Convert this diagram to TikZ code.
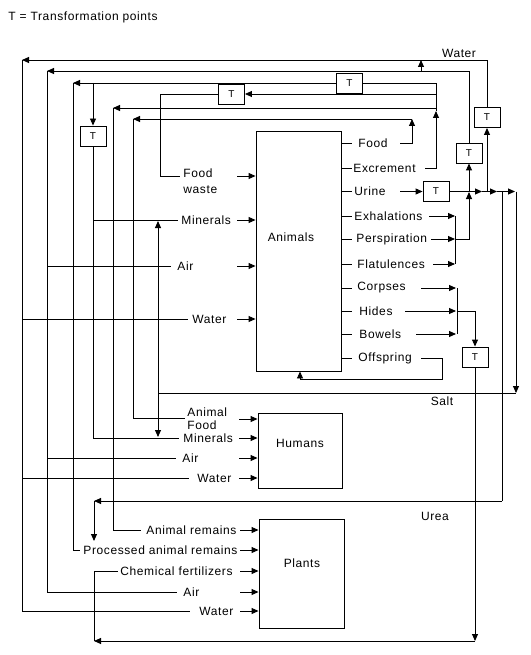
\documentclass[tikz,border=0pt]{standalone}
\usepackage{fontspec}
\setmainfont[LetterSpace=5]{Liberation Sans}
\usetikzlibrary{arrows.meta}
\begin{document}
\begin{tikzpicture}[x=1pt,y=-1pt,
  line width=0.9pt,
  every node/.style={font=\fontsize{12}{13}\selectfont},
  lbl/.style={inner sep=0pt, anchor=west},
  tbox/.style={draw, minimum width=26pt, minimum height=20pt, inner sep=0pt, font=\fontsize{10}{12}\selectfont},
  bigbox/.style={draw, inner sep=0pt},
  arr/.style={-{Triangle[length=7pt,width=6pt]}},
  ]
\useasboundingbox (0,0) rectangle (530,655);

% legend and free labels
\node[lbl] (legend) at (8,17) {T = Transformation points};
\node (lwater) at (459,53) {Water};
\node (lsalt) at (442,401) {Salt};
\node (lurea) at (435,516) {Urea};

% big boxes
\node[bigbox, minimum width=85pt, minimum height=240pt] (animals) at (298.5,251) {};
\node (lanimals) at (291,237) {Animals};
\node[bigbox, minimum width=84pt, minimum height=75pt] (humans) at (300,450.5) {};
\node (lhumans) at (300,443) {Humans};
\node[bigbox, minimum width=85pt, minimum height=109pt] (plants) at (301.5,573.5) {};
\node (lplants) at (302,563) {Plants};

% T boxes
\node[tbox] (T1) at (349.5,83) {T};
\node[tbox] (T2) at (231.5,94) {T};
\node[tbox] (T3) at (93,136) {T};
\node[tbox] (T4) at (436,191.5) {T};
\node[tbox] (T5) at (469,153) {T};
\node[tbox] (T6) at (487,117.5) {T};
\node[tbox] (T7) at (475,357) {T};

% output labels of Animals
\node[lbl] (oFood) at (358,143) {Food};
\node[lbl] (oExc) at (353,168) {Excrement};
\node[lbl] (oUri) at (354,191.5) {Urine};
\node[lbl] (oExh) at (354,216) {Exhalations};
\node[lbl] (oPer) at (356,239) {Perspiration};
\node[lbl] (oFla) at (357,264) {Flatulences};
\node[lbl] (oCor) at (357,288) {Corpses};
\node[lbl] (oHid) at (359,311) {Hides};
\node[lbl] (oBow) at (359,334) {Bowels};
\node[lbl] (oOff) at (358,358) {Offspring};

% input labels
\node[lbl, align=left, font=\fontsize{12}{16}\selectfont] (fwA) at (183,181) {Food\\waste};
\node[lbl] (mA) at (181,220) {Minerals};
\node[lbl] (aA) at (177,266) {Air};
\node[lbl] (wA) at (192,319) {Water};
\node[lbl, align=left] (afH) at (187,418.5) {Animal\\Food};
\node[lbl] (mH) at (183,438) {Minerals};
\node[lbl] (aH) at (182,458) {Air};
\node[lbl] (wH) at (197,478) {Water};
\node[lbl] (arP) at (146,530) {Animal remains};
\node[lbl] (pP) at (83,550) {Processed animal remains};
\node[lbl] (cP) at (120,571) {Chemical fertilizers};
\node[lbl] (aP) at (183,592) {Air};
\node[lbl] (wP) at (199,611) {Water};

% ticks on Animals
\foreach \y in {143,168,191.5,216,239,264,288,311,334,358}
  \draw (animals.east |- 0,\y) -- ++(11,0);

% inputs into boxes
\foreach \y in {176,220,266,319}
  \draw[arr] (237,\y) -- (animals.west |- 0,\y);
\foreach \y in {419,438,458,478}
  \draw[arr] (239,\y) -- (humans.west |- 0,\y);
\foreach \y in {530,550,571,592,611}
  \draw[arr] (240,\y) -- (plants.west |- 0,\y);

% line 1 (water)
\draw[arr] (T6.north) |- (22,60) coordinate (w0);
\draw (w0) -- (22,611) -- ([xshift=-9pt]wP.west);
\draw (22,319) -- ([xshift=-4pt]wA.west);
\draw (22,478) -- ([xshift=-8pt]wH.west);

% line 2 (air)
\draw[arr] (T5.north) |- (47,71) coordinate (a0);
\draw (a0) -- (47,592) -- ([xshift=-6pt]aP.west);
\draw (47,266) -- ([xshift=-6pt]aA.west);
\draw (47,458) -- ([xshift=-6pt]aH.west);
\draw[arr] (421,71) -- (421,60);

% line 3 (excrement -> processed animal remains / minerals)
\draw[arr] (425,168) -- (436,168) -- (436,111);
\draw (436,111) -- (436,83) -- (T1.east);
\draw[arr] (T1.west) -- (73,83);
\draw (73,83) -- (73,550) -- ([xshift=-3pt]pP.west);
\draw[arr] (93,83) -- (T3.north);
\draw (T3.south) -- (93,438) -- ([xshift=-4pt]mH.west);
\draw (93,220) -- ([xshift=-3pt]mA.west);

% line 4 (food waste)
\draw[arr] (436,94) -- (T2.east);
\draw (T2.west) -- (160,94) -- (160,176) -- (180,176);

% line 5 (animal remains)
\draw[arr] (436,108) -- (113,108);
\draw (113,108) -- (113,530) -- ([xshift=-5pt]arP.west);

% line 6 (food -> animal food)
\draw[arr] (400,143) -- (412,143) -- (412,119);
\draw[arr] (412,119) -- (133,119);
\draw (133,119) -- (133,418) -- (185,418);

% urine line
\draw[arr] (400,191.5) -- (T4.west);
\draw[arr] (T4.east) -- (482,191.5);
\draw[arr] (482,191.5) -- (497,191.5);
\draw (497,191.5) -- (502,191.5) -- (502,501);
\draw[arr] (502,191.5) -- (515,191.5);
\draw[arr] (516,191.5) -- (516,393);
\draw (516,393) -- (158,393);
\draw[arr] (158,393) -- (158,221);
\draw[arr] (158,393) -- (158,437);

% urea
\draw[arr] (502,501) -- (94,501);
\draw[arr] (94,501) -- (94,541);

% exhalations, perspiration, flatulences
\draw[arr] (429,216) -- (455,216);
\draw[arr] (431,239) -- (455,239);
\draw[arr] (433,264) -- (455,264);
\draw (455,216) -- (455,264);
\draw[arr] (455,239) -- (469,239) -- (469,192);
\draw[arr] (469,192) -- (T5.south);
\draw[arr] (487,191.5) -- (T6.south);

% corpses, hides, bowels
\draw[arr] (421,288) -- (456,288);
\draw[arr] (405,311) -- (456,311);
\draw[arr] (416,334) -- (456,334);
\draw (457,288) -- (457,334);
\draw[arr] (457,311) -- (475,311) -- (T7.north);
\draw[arr] (T7.south) -- (475,641);
\draw[arr] (475,641) -- (94,641);
\draw (94,641) -- (94,571) -- ([xshift=-2pt]cP.west);

% offspring
\draw[arr] (421,358) -- (442,358) -- (442,379) -- (300,379) -- (animals.south -| 300,0);
\end{tikzpicture}
\end{document}
